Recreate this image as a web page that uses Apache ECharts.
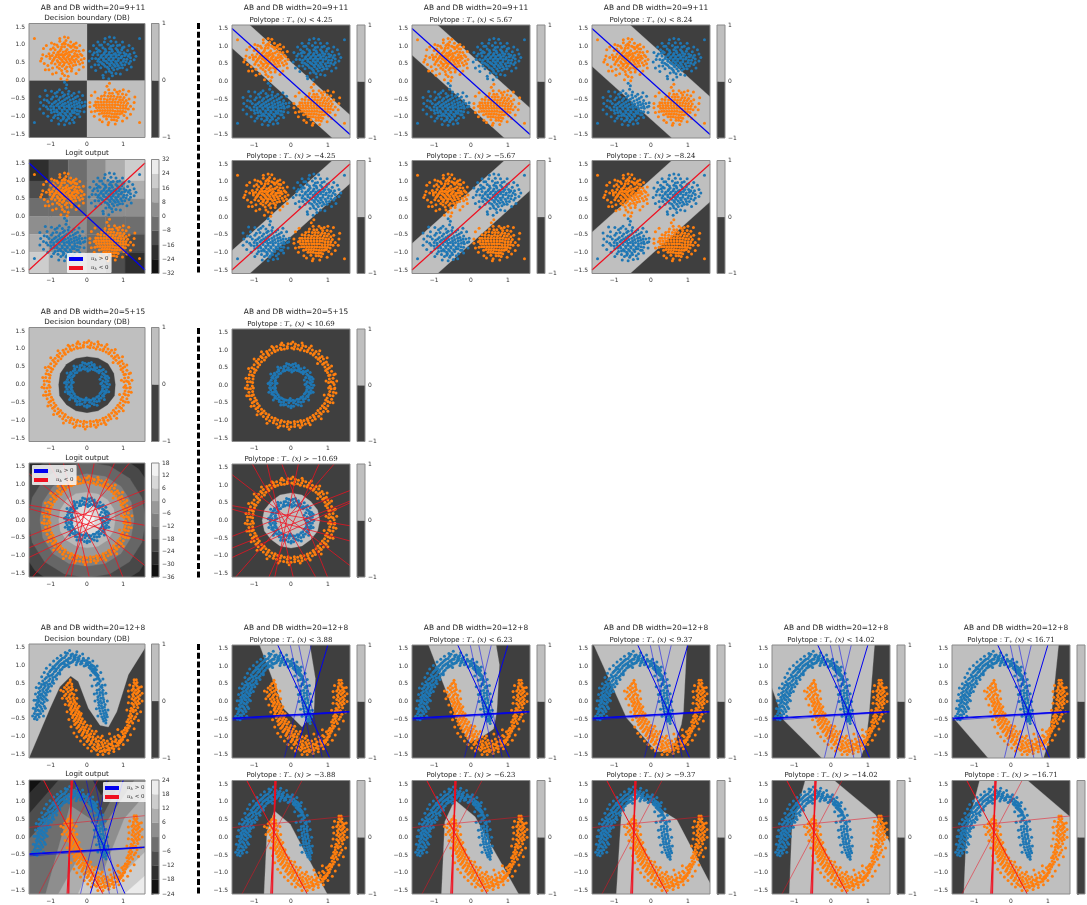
<!DOCTYPE html>
<html>
<head>
<meta charset="utf-8">
<script src="https://cdn.jsdelivr.net/npm/echarts@6/dist/echarts.min.js"></script>
<style>
html,body{margin:0;padding:0;background:#fff}
#main{width:1087px;height:905px;filter:blur(0.4px)}
</style>
</head>
<body>
<div id="main"></div>
<script>
// ticks
var xTicks = [-1, 0, 1];
var yTicks = [1.5, 1, 0.5, 0, -0.5, -1, -1.5];
var dbTicks = [1, 0, -1];
var logitTicks1 = [32, 24, 16, 8, 0, -8, -16, -24, -32];
var logitTicks2 = [18, 12, 6, 0, -6, -12, -18, -24, -30, -36];
var logitTicks3 = [24, 18, 12, 6, 0, -6, -12, -18, -24];

// four blobs
var blobOrangeA = [[-1.45,1.18],[-.62,1.22],[-.58,1.12],[-.75,1.1],[-.45,1.08],[-.9,1.02],[-.68,1.02],[-.52,1],[-.36,1.02],[-.8,.95],[-.62,.95],[-.44,.93],[-.28,.92],[-1,.88],[-.88,.86],[-.72,.88],[-.55,.87],[-.38,.85],[-.22,.82],[-1.05,.75],[-.92,.78],[-.8,.79],[-.66,.8],[-.5,.79],[-.34,.76],[-.18,.74],[-1.12,.68],[-.96,.7],[-.84,.72],[-.72,.72],[-.6,.74],[-.48,.72],[-.36,.68],[-.24,.66],[-1.02,.62],[-.9,.63],[-.78,.65],[-.66,.66],[-.54,.65],[-.42,.62],[-.3,.6],[-.16,.58],[-1.18,.48],[-.95,.55],[-.82,.56],[-.7,.58],[-.58,.58],[-.46,.55],[-.34,.52],[-.2,.46],[-1.08,.42],[-.88,.46],[-.74,.49],[-.62,.5],[-.5,.47],[-.38,.42],[-1.05,.3],[-.82,.38],[-.68,.4],[-.56,.38],[-.42,.34],[-.7,.28],[-.55,.26],[-.85,.22],[-.52,.12],[-.68,.2],
  [-.93,.92],[-.63,1.06],[-.47,.97],[-.33,.93],[-.75,.83],[-.59,.82],[-.43,.81],[-.27,.72],[-.86,.67],[-.74,.62],[-.63,.71],[-.51,.69],[-.41,.67],[-.29,.69],[-.69,.73],[-.56,.76],[-.78,.73],[-1.02,.68],[-.92,.59],[-.62,.62],[-.49,.6],[-.37,.57],[-.24,.53],[-.8,.52],[-.67,.53],[-.55,.52],[-.43,.49],[-.31,.44],[-.98,.49],[-.76,.44],[-.64,.44],[-.47,.39],[-.6,.33],[-1.22,.72],[-.14,.7],[-.12,.5],[-.76,.34],[-.43,.27],[-.62,.14],[-.95,.35],[-.83,1],[-.39,.98],[-.6,1.03],[-.3,.83],[-.7,.94],
  [-1.28,.55],[-1.2,.9],[-1.12,.98],[-.98,1.05],[-.3,1.05],[-.2,.98],[-.1,.85],[-.08,.62],[-.1,.38],[-.22,.3],[-.3,.2],[-.95,.18],[-1.15,.3],[-.72,.05],[-.55,.02],[-1.25,.62],[-.52,1.2],[-.75,1.18]];
var blobBlueA = [[1.45,1.18],[.62,1.22],[.66,1.1],[.48,1.08],[.8,1.08],[.35,1],[.58,1.02],[.72,.98],[.9,1],[1.02,.94],[.26,.9],[.44,.92],[.62,.9],[.8,.9],[.96,.86],[1.12,.84],[.2,.78],[.36,.82],[.52,.82],[.7,.82],[.86,.8],[1.02,.78],[1.18,.74],[.14,.62],[.3,.72],[.46,.74],[.6,.74],[.74,.74],[.88,.72],[1.04,.7],[1.2,.64],[.24,.62],[.38,.65],[.52,.66],[.66,.66],[.8,.66],[.94,.64],[1.1,.6],[1.3,.58],[.3,.54],[.46,.57],[.6,.58],[.72,.58],[.86,.56],[1,.54],[1.16,.48],[.22,.44],[.42,.48],[.56,.5],[.68,.5],[.82,.48],[.96,.44],[.5,.4],[.64,.42],[.78,.4],[.9,.36],[.38,.36],[.6,.32],[.74,.3],[.52,.24],[.68,.22],[.44,.15],[.7,.13],[.45,.08],
  [.4,1],[.66,.96],[.84,.98],[.98,.92],[.32,.85],[.5,.88],[.68,.87],[.84,.85],[.48,.78],[.62,.79],[.78,.76],[.92,.78],[1.08,.74],[.4,.7],[.54,.7],[.67,.71],[.81,.7],[.96,.68],[1.14,.68],[.32,.6],[.45,.62],[.6,.62],[.73,.63],[.87,.62],[1.02,.6],[1.2,.54],[.37,.52],[.52,.54],[.66,.55],[.79,.53],[.93,.5],[1.08,.52],[.46,.45],[.62,.46],[.74,.45],[.86,.42],[1.04,.44],[.32,.44],[.56,.37],[.7,.36],[.84,.32],[.98,.36],[.62,.26],[.16,.72],[.28,.8],
  [1.3,.78],[1.26,.9],[1.16,.98],[.98,1.08],[.3,1.08],[.18,.98],[.08,.82],[.06,.55],[.12,.38],[.24,.28],[1.1,.3],[1.22,.38],[.92,.18],[.8,.2],[.6,.05],[.75,1.2],[.5,1.18],[1.35,.68]];
var blobBlueB = [[-1.45,-1.18],[-.56,-.12],[-.58,-.22],[-.76,-.26],[-.5,-.3],[-.88,-.36],[-.68,-.34],[-.52,-.38],[-.36,-.36],[-1.1,-.42],[-.84,-.44],[-.66,-.44],[-.5,-.46],[-.32,-.48],[-1.18,-.54],[-.98,-.52],[-.78,-.54],[-.62,-.54],[-.46,-.55],[-.3,-.58],[-.2,-.54],[-1.05,-.62],[-.9,-.62],[-.74,-.62],[-.6,-.64],[-.44,-.64],[-.28,-.66],[-.14,-.62],[-1.2,-.7],[-1,-.72],[-.84,-.7],[-.7,-.7],[-.56,-.72],[-.42,-.72],[-.26,-.74],[-.18,-.76],[-1.08,-.8],[-.92,-.8],[-.76,-.78],[-.62,-.8],[-.48,-.8],[-.34,-.82],[-.2,-.86],[-.98,-.9],[-.82,-.88],[-.68,-.88],[-.54,-.88],[-.4,-.9],[-.28,-.94],[-.88,-.98],[-.72,-.96],[-.58,-.96],[-.44,-.98],[-.34,-1.04],[-.8,-1.06],[-.64,-1.04],[-.5,-1.06],[-.72,-1.12],[-.58,-1.14],[-.62,-1.24],[-.66,-1],
  [-.82,-.32],[-.62,-.4],[-.42,-.42],[-.26,-.44],[-.94,-.46],[-.74,-.48],[-.56,-.5],[-.38,-.52],[-1.1,-.56],[-.86,-.58],[-.68,-.58],[-.52,-.6],[-.36,-.6],[-.22,-.62],[-.96,-.66],[-.8,-.66],[-.66,-.67],[-.5,-.68],[-.35,-.68],[-.2,-.7],[-1.12,-.74],[-.92,-.74],[-.77,-.74],[-.63,-.74],[-.49,-.75],[-.34,-.76],[-.1,-.72],[-1,-.82],[-.84,-.83],[-.69,-.83],[-.55,-.84],[-.41,-.85],[-.27,-.84],[-.9,-.88],[-.75,-.92],[-.61,-.92],[-.47,-.93],[-.35,-.9],[-.8,-.96],[-.66,-1.08],[-.52,-1.01],[-.4,-1.1],[-.92,-1.04],[-.56,-1.1],[-.24,-.94],
  [-1.28,-.62],[-1.3,-.8],[-1.2,-.92],[-1.08,-1],[-.98,-1.12],[-.08,-.88],[-.05,-.6],[-.12,-.42],[-.22,-.32],[-.98,-.3],[-1.15,-.28],[-.36,-1.18],[-.48,-1.2],[-.78,-1.22],[-.2,-1.02],[-.62,-.05],[-.06,-.7],[-1.3,-.45]];
var blobOrangeB = [[1.45,-1.18],[.55,-.16],[.6,-.26],[.76,-.26],[.9,-.3],[.5,-.34],[.7,-.36],[.86,-.38],[1.08,-.4],[.4,-.44],[.58,-.44],[.74,-.44],[.92,-.46],[.3,-.5],[.48,-.52],[.64,-.52],[.8,-.52],[.98,-.54],[1.16,-.52],[.24,-.6],[.38,-.6],[.54,-.6],[.7,-.6],[.86,-.6],[1.02,-.62],[.2,-.7],[.32,-.68],[.46,-.68],[.62,-.68],[.78,-.68],[.92,-.7],[1.08,-.7],[1.2,-.72],[.26,-.76],[.4,-.76],[.56,-.76],[.7,-.76],[.84,-.78],[1,-.78],[1.14,-.8],[.22,-.86],[.36,-.84],[.5,-.84],[.64,-.84],[.78,-.86],[.92,-.86],[1.06,-.88],[.34,-.94],[.48,-.92],[.62,-.92],[.76,-.94],[.9,-.94],[1.02,-.98],[.46,-1],[.6,-1],[.74,-1.02],[.86,-1.04],[.54,-1.08],[.68,-1.1],[.82,-1.12],[.6,-1.18],[.58,-1.24],
  [.62,-.36],[.82,-.32],[.98,-.38],[.48,-.42],[.66,-.44],[.84,-.46],[1.02,-.48],[.38,-.52],[.56,-.54],[.72,-.53],[.9,-.54],[1.08,-.56],[.3,-.6],[.46,-.6],[.62,-.6],[.78,-.6],[.94,-.62],[1.12,-.64],[.24,-.68],[.4,-.68],[.54,-.68],[.7,-.68],[.85,-.68],[1,-.7],[.33,-.76],[.48,-.76],[.63,-.76],[.77,-.76],[.92,-.78],[1.07,-.78],[.29,-.84],[.43,-.84],[.57,-.84],[.71,-.84],[.85,-.86],[.99,-.86],[.41,-.92],[.55,-.92],[.69,-.93],[.83,-.94],[.96,-.92],[.53,-1],[.67,-1.02],[.8,-1.02],[.75,-1.1],
  [1.3,-.62],[1.28,-.8],[1.2,-.95],[1.1,-1.05],[.98,-1.14],[.12,-.88],[.08,-.62],[.12,-.42],[.22,-.32],[1,-.26],[1.15,-.3],[.35,-1.1],[.42,-1.16],[.78,-1.22],[.2,-1],[.62,-.08],[.08,-.74],[1.32,-.46]];

// two rings
var ringBlue = [[.55,.02],[.46,-.03],[.53,.15],[.44,.1],[.47,.28],[.4,.22],[.4,.39],[.33,.33],[.27,.47],[.23,.4],[.14,.55],[.11,.44],[0,.57],[.01,.45],[-.14,.54],[-.11,.44],[-.28,.5],[-.22,.4],[-.38,.38],[-.33,.32],[-.48,.27],[-.4,.22],[-.54,.14],[-.43,.11],[-.56,0],[-.44,-.02],[-.55,-.13],[-.44,-.12],[-.47,-.28],[-.39,-.22],[-.38,-.38],[-.32,-.33],[-.27,-.48],[-.22,-.39],[-.14,-.55],[-.12,-.43],[.01,-.58],[-.01,-.44],[.14,-.53],[.11,-.44],[.27,-.48],[.22,-.4],[.39,-.38],[.32,-.32],[.48,-.26],[.39,-.22],[.54,-.15],[.43,-.12],[.51,.07],[.49,.2],[.43,.31],[.33,.4],[.21,.47],[.07,.51],[-.07,.5],[-.2,.46],[-.33,.41],[-.43,.3],[-.48,.2],[-.51,.06],[-.5,-.07],[-.47,-.2],[-.42,-.31],[-.32,-.41],[-.2,-.47],[-.06,-.5],[.07,-.5],[.2,-.47],[.33,-.4],[.43,-.31],[.48,-.19],[.5,-.06],[-.52,-.2],[.52,.24],[.2,.56],[-.2,-.56],
  [.58,.1],[.5,-.08],[.41,.04],[.56,.23],[.36,.15],[.35,.37],[.45,.42],[.28,.37],[.2,.52],[.17,.42],[.05,.6],[.07,.41],[-.06,.6],[-.05,.43],[-.19,.53],[-.17,.41],[-.34,.45],[-.28,.34],[-.45,.34],[-.36,.25],[-.52,.22],[-.42,.14],[-.58,.08],[-.42,.04],[-.58,-.07],[-.42,-.08],[-.52,-.25],[-.41,-.17],[-.44,-.36],[-.35,-.27],[-.32,-.46],[-.26,-.36],[-.2,-.55],[-.17,-.41],[-.07,-.6],[-.06,-.43],[.07,-.6],[.05,-.43],[.2,-.56],[.17,-.4],[.34,-.46],[.27,-.35],[.46,-.33],[.36,-.25],[.53,-.22],[.42,-.17],[.58,-.07],[.43,-.05],
  [.62,0],[.6,.18],[.52,.36],[.36,.5],[.12,.62],[-.12,.62],[-.36,.52],[-.55,.32],[-.62,.05],[-.6,-.2],[-.48,-.42],[-.28,-.56],[0,-.64],[.28,-.58],[.48,-.42],[.6,-.2],[.38,.02],[-.38,.06],[.02,.38],[-.02,-.38]];
var ringOrange = [[1.17,.02],[1.06,-.03],[1.14,.2],[1.04,.18],[1.1,.4],[.99,.36],[1,.58],[.92,.52],[.88,.75],[.8,.68],[.75,.89],[.68,.8],[.58,1],[.53,.91],[.4,1.1],[.36,.98],[.2,1.14],[.18,1.04],[0,1.18],[.02,1.06],[-.2,1.14],[-.18,1.03],[-.39,1.1],[-.36,1],[-.58,1],[-.52,.92],[-.75,.88],[-.68,.8],[-.88,.74],[-.8,.67],[-1,.58],[-.9,.52],[-1.1,.39],[-.99,.36],[-1.14,.2],[-1.03,.18],[-1.18,0],[-1.05,-.02],[-1.14,-.2],[-1.04,-.18],[-1.1,-.4],[-.98,-.36],[-1,-.58],[-.91,-.52],[-.89,-.74],[-.8,-.68],[-.75,-.89],[-.68,-.8],[-.58,-1.01],[-.52,-.92],[-.39,-1.1],[-.36,-.99],[-.2,-1.16],[-.18,-1.04],[0,-1.18],[-.01,-1.06],[.2,-1.14],[.18,-1.04],[.39,-1.1],[.35,-1],[.58,-1],[.52,-.92],[.75,-.88],[.68,-.8],[.88,-.75],[.8,-.66],[1,-.58],[.91,-.52],[1.1,-.4],[.98,-.36],[1.15,-.2],[1.05,-.18],[1.09,.1],[1.06,.29],[.99,.46],[.9,.63],[.78,.78],[.63,.9],[.46,1],[.29,1.06],[.1,1.1],[-.1,1.1],[-.29,1.06],[-.46,1],[-.63,.9],[-.78,.78],[-.9,.63],[-1,.46],[-1.06,.29],[-1.1,.1],[-1.1,-.1],[-1.06,-.29],[-1,-.46],[-.9,-.63],[-.78,-.78],[-.63,-.9],[-.46,-1],[-.29,-1.06],[-.1,-1.1],[.1,-1.1],[.29,-1.06],[.46,-1],[.63,-.9],[.78,-.78],[.9,-.63],[1,-.46],[1.06,-.29],[1.09,-.1],
  [1.14,.08],[1.19,-.08],[1.02,.08],[1.16,.3],[1.02,.28],[1.04,.5],[.94,.42],[.96,.66],[.86,.6],[.84,.82],[.74,.74],[.68,.96],[.6,.86],[.5,1.06],[.44,.95],[.32,1.13],[.25,1],[.12,1.17],[.08,1.03],[-.08,1.18],[-.1,1.05],[-.28,1.15],[-.26,1.02],[-.48,1.07],[-.43,.96],[-.66,.96],[-.6,.85],[-.82,.82],[-.72,.72],[-.94,.68],[-.85,.58],[-1.06,.5],[-.95,.43],[-1.13,.3],[-1.02,.26],[-1.18,.1],[-1.04,.08],[-1.18,-.1],[-1.02,-.08],[-1.13,-.3],[-1.02,-.27],[-1.05,-.5],[-.94,-.43],[-.95,-.67],[-.86,-.58],[-.82,-.82],[-.73,-.73],[-.67,-.96],[-.6,-.84],[-.48,-1.07],[-.43,-.94],[-.3,-1.15],[-.26,-1],[-.1,-1.18],[-.08,-1.03],[.1,-1.17],[.09,-1.03],[.3,-1.14],[.26,-1],[.48,-1.07],[.44,-.95],[.66,-.96],[.6,-.85],[.82,-.82],[.73,-.72],[.95,-.67],[.85,-.58],[1.06,-.49],[.94,-.42],[1.14,-.3],[1.02,-.26],[1.18,-.1],[1.02,-.08],
  [1.24,.12],[1.2,.32],[1.1,.55],[.98,.78],[.78,.98],[.55,1.12],[.3,1.2],[.05,1.23],[-.25,1.2],[-.52,1.1],[-.8,.95],[-1,.75],[-1.15,.48],[-1.22,.2],[-1.24,-.08],[-1.2,-.3],[-1.08,-.6],[-.92,-.84],[-.65,-1.08],[-.35,-1.2],[-.05,-1.25],[.25,-1.2],[.52,-1.12],[.82,-.95],[1,-.74],[1.14,-.5],[1.22,-.22],[.95,.12],[.9,-.28],[.72,.62]];

// two moons
var moonBlue = [[-1.45,-.5],[-1.38,-.52],[-1.32,-.45],[-1.45,-.35],[-1.38,-.38],[-1.28,-.35],[-1.42,-.22],[-1.35,-.25],[-1.25,-.22],[-1.4,-.1],[-1.32,-.12],[-1.22,-.08],[-1.4,.02],[-1.32,0],[-1.22,.04],[-1.36,.12],[-1.28,.1],[-1.18,.12],[-1.34,.24],[-1.25,.2],[-1.15,.22],[-1.32,.36],[-1.22,.32],[-1.12,.3],[-1.25,.46],[-1.15,.42],[-1.06,.4],[-1.22,.56],[-1.12,.52],[-1.02,.48],[-1.12,.66],[-1.02,.62],[-.94,.58],[-1.08,.76],[-.98,.72],[-.88,.68],[-1,.86],[-.9,.82],[-.8,.78],[-.94,.96],[-.84,.9],[-.74,.86],[-.84,1.04],[-.76,1],[-.66,.95],[-.76,1.12],[-.68,1.06],[-.58,1],[-.68,1.2],[-.58,1.14],[-.48,1.06],[-.58,1.28],[-.5,1.2],[-.4,1.1],[-.48,1.42],[-.44,1.26],[-.34,1.16],[-.4,1.32],[-.32,1.22],[-.24,1.12],[-.3,1.3],[-.22,1.18],[-.14,1.06],[-.2,1.26],[-.12,1.14],[-.04,1],[-.1,1.2],[-.02,1.06],[.06,.94],[0,1.14],[.08,.98],[.14,.84],[.08,1.08],[.16,.9],[.22,.76],[.18,.98],[.24,.8],[.3,.66],[.26,.88],[.3,.7],[.36,.56],[.3,.72],[.36,.56],[.42,.44],[.3,.5],[.38,.4],[.44,.3],[.28,.3],[.36,.24],[.44,.18],[.3,.12],[.38,.08],[.46,.04],[.32,-.04],[.4,-.06],[.5,-.1],[.34,-.2],[.42,-.2],[.5,-.25],[.38,-.36],[.46,-.35],[.54,-.38],[.44,-.5],[.5,-.48],[.52,-.62],[-.62,1.04],[-.52,1.1],[-.36,1.24],[-.16,1.1],[-.9,.92],[-1.06,.7],[-1.18,.46],[-1.28,.18],[.12,1.02],[.22,.9],
  [-1.42,-.44],[-1.34,-.38],[-1.42,-.28],[-1.31,-.28],[-1.22,-.28],[-1.38,-.16],[-1.28,-.16],[-1.18,-.15],[-1.36,-.04],[-1.27,-.05],[-1.18,-.02],[-1.34,.06],[-1.25,.06],[-1.14,.06],[-1.31,.17],[-1.22,.15],[-1.12,.17],[-1.29,.28],[-1.2,.26],[-1.09,.25],[-1.27,.4],[-1.18,.37],[-1.08,.35],[-1.18,.5],[-1.08,.46],[-.98,.42],[-1.16,.62],[-1.06,.57],[-.96,.53],[-1.04,.7],[-.94,.66],[-.84,.62],[-1.03,.82],[-.94,.76],[-.84,.72],[-.96,.9],[-.86,.85],[-.76,.8],[-.88,1],[-.79,.94],[-.7,.89],[-.8,1.08],[-.72,1.03],[-.62,.97],[-.72,1.16],[-.63,1.1],[-.54,1.02],[-.62,1.22],[-.54,1.16],[-.44,1.08],[-.54,1.34],[-.46,1.2],[-.38,1.14],[-.44,1.3],[-.36,1.18],[-.28,1.08],[-.34,1.27],[-.26,1.15],[-.18,1.04],[-.24,1.22],[-.16,1.1],[-.08,.98],[-.06,1.14],[.02,1.02],[.1,.9],[.04,1.08],[.12,.93],[.18,.8],[.14,1],[.2,.85],[.26,.72],[.22,.94],[.27,.76],[.33,.62],[.26,.62],[.33,.48],[.41,.38],[.26,.44],[.34,.32],[.42,.24],[.27,.22],[.35,.16],[.44,.1],[.3,.04],[.37,0],[.46,-.03],[.33,-.12],[.4,-.14],[.48,-.17],[.36,-.28],[.44,-.28],[.52,-.32],[.41,-.44],[.48,-.42],[.56,-.44],[.46,-.56],[.52,-.54],
  [-1.5,-.42],[-1.48,-.2],[-1.46,.02],[-1.42,.2],[-1.4,.38],[-1.32,.5],[-1.25,.68],[-1.18,.8],[-1.12,.92],[-1.02,1.02],[-.92,1.12],[-.82,1.2],[-.72,1.28],[-.6,1.36],[-.28,1.38],[-.12,1.32],[.04,1.2],[.16,1.12],[.28,.98],[.38,.8],[.2,.6],[.14,.42],[.2,.2],[.22,0],[.26,-.22],[.3,-.42],[.58,-.25],[.56,0],[.52,.22],[.5,.45],[.44,.62],[-.3,1.02],[-.5,.96],[-.75,.76],[-.92,.5],[-1.02,.28],[-1.1,.02],[-1.15,-.2],[-1.2,-.42],[.1,.72]];
var moonOrange = [[-.46,.6],[-.52,.5],[-.42,.48],[-.62,.38],[-.5,.38],[-.4,.34],[-.65,.27],[-.52,.26],[-.42,.22],[-.62,.15],[-.5,.12],[-.38,.1],[-.52,0],[-.44,-.02],[-.34,-.02],[-.5,-.12],[-.42,-.14],[-.32,-.14],[-.46,-.24],[-.38,-.26],[-.28,-.26],[-.44,-.36],[-.34,-.38],[-.24,-.36],[-.4,-.46],[-.3,-.48],[-.2,-.46],[-.36,-.56],[-.26,-.58],[-.16,-.56],[-.34,-.66],[-.22,-.68],[-.1,-.64],[-.28,-.76],[-.16,-.78],[-.04,-.74],[-.22,-.86],[-.1,-.88],[.02,-.84],[-.14,-.96],[-.02,-.98],[.1,-.92],[-.08,-1.04],[.04,-1.06],[.16,-1],[0,-1.14],[.12,-1.14],[.24,-1.06],[.08,-1.22],[.2,-1.22],[.32,-1.12],[.16,-1.3],[.28,-1.28],[.4,-1.16],[.26,-1.38],[.38,-1.32],[.5,-1.18],[.36,-1.42],[.48,-1.36],[.6,-1.2],[.5,-1.42],[.6,-1.32],[.7,-1.14],[.62,-1.38],[.72,-1.26],[.8,-1.08],[.74,-1.34],[.84,-1.18],[.9,-1],[.86,-1.24],[.94,-1.08],[1,-.92],[.94,-1.14],[1.04,-.98],[1.1,-.82],[1.02,-1],[1.1,-.84],[1.18,-.7],[1.06,-.76],[1.16,-.6],[1.26,-.62],[1.1,-.58],[1.2,-.48],[1.3,-.5],[1.2,-.36],[1.28,-.3],[1.38,-.36],[1.22,-.2],[1.3,-.16],[1.4,-.18],[1.24,-.06],[1.34,-.04],[1.44,-.06],[1.24,.06],[1.34,.08],[1.44,.06],[1.26,.18],[1.36,.2],[1.46,.16],[1.24,.3],[1.34,.3],[1.44,.28],[1.28,.42],[1.38,.42],[1.44,.38],[1.3,.52],[1.38,.52],[1.36,.6],[.3,-1.2],[.45,-1.28],[.05,-.96],[-.08,-.8],[.56,-1.26],[.68,-1.2],
  [-.47,.54],[-.42,.41],[-.56,.44],[-.56,.33],[-.45,.3],[-.58,.2],[-.47,.18],[-.36,.18],[-.56,.07],[-.46,.06],[-.36,.03],[-.47,-.06],[-.38,-.08],[-.29,-.08],[-.44,-.19],[-.34,-.2],[-.26,-.2],[-.42,-.3],[-.31,-.32],[-.22,-.3],[-.38,-.41],[-.27,-.42],[-.18,-.4],[-.33,-.52],[-.23,-.52],[-.13,-.5],[-.3,-.62],[-.18,-.62],[-.06,-.58],[-.24,-.72],[-.12,-.72],[0,-.68],[-.19,-.82],[-.06,-.82],[.06,-.78],[-.12,-.92],[0,-.9],[.14,-.84],[-.04,-1],[.08,-1],[.2,-.92],[.03,-1.1],[.16,-1.08],[.3,-1],[.12,-1.18],[.25,-1.14],[.38,-1.04],[.2,-1.34],[.33,-1.24],[.46,-1.1],[.31,-1.33],[.43,-1.22],[.56,-1.12],[.42,-1.4],[.54,-1.27],[.66,-1.06],[.56,-1.37],[.66,-1.22],[.76,-1],[.68,-1.32],[.78,-1.14],[.86,-.96],[.8,-1.26],[.89,-1.12],[.96,-.86],[.9,-1.18],[.99,-1.02],[1.06,-.76],[.98,-1.08],[1.06,-.9],[1.14,-.76],[1.02,-.82],[1.12,-.68],[1.22,-.56],[1.14,-.52],[1.24,-.42],[1.34,-.44],[1.16,-.42],[1.26,-.24],[1.34,-.26],[1.2,-.28],[1.28,-.1],[1.38,-.1],[1.3,.02],[1.4,0],[1.28,.13],[1.4,.12],[1.3,.24],[1.4,.24],[1.28,.35],[1.4,.34],[1.34,.47],[1.3,.6],
  [-.72,.3],[-.68,.08],[-.6,-.1],[-.55,-.3],[-.5,-.52],[-.44,-.72],[-.36,-.9],[-.28,-1],[-.18,-1.12],[-.08,-1.22],[.02,-1.32],[.12,-1.4],[.3,-1.5],[.44,-1.5],[.6,-1.47],[.74,-1.42],[.88,-1.34],[1,-1.22],[1.12,-1.1],[1.2,-.95],[1.3,-.78],[1.42,-.55],[1.48,-.3],[1.52,0],[1.52,.22],[1.5,.4],[1.1,-.25],[1.14,-.05],[1.16,.12],[1.14,.28],[1.18,.45],[-.22,-.15],[-.16,-.35],[-.28,.08],[-.3,.3],[.1,-.7],[.25,-.85],[.42,-.98],[.62,-.92],[.85,-.8]];

// activation boundaries (end points on the frame)
var xorBlue = [[[-1.6,1.5],[1.6,-1.5]]];
var xorRed = [[[-1.6,-1.5],[1.6,1.5]]];
var ringRed = [[[-1.05,1.6],[.67,-1.6]],[[-.65,1.6],[.06,-1.6]],[[-.25,1.6],[.99,-1.6]],[[.2,1.6],[-.44,-1.6]],[[.76,1.6],[-.6,-1.6]],[[1.17,1.6],[-1.5,-1.6]],[[-1.6,1.3],[1.6,-1.28]],[[-1.6,.42],[1.6,-.15]],[[-1.6,.32],[1.6,-.58]],[[-1.6,-.45],[1.6,.85]],[[-1.6,-1.05],[1.6,.5]],[[-1.6,-.78],[1.6,.55]]];
var moonBlueStrong = [[[-.36,1.6],[1.05,-1.6]],[[1,1.6],[.09,-1.6]],[[-1.6,-.47],[1.6,-.28]],[[-1.6,-.49],[1.6,-.29]]];
var moonBlueFaint = [[[-.02,1.6],[.62,-1.6]],[[.21,1.6],[.85,-1.6]],[[.55,1.6],[-.18,-1.6]],[[-1.6,-.53],[1.6,-.3]]];
var moonRedStrong = [[[-1.2,1.6],[.44,-1.6]],[[-.4,1.6],[-.55,-1.6]],[[-.42,1.6],[-.52,-1.6]],[[-.44,1.6],[-.5,-1.6]]];
var moonRedFaint = [[[.3,1.6],[-1.33,-1.6]],[[-1.6,.27],[1.6,.6]]];

// decision regions
var dbXor = [[[-1.6,0],[0,0],[0,1.6],[-1.6,1.6]],[[0,0],[1.6,0],[1.6,-1.6],[0,-1.6]]];
var bandPlus = {
  '4.25': [[-1.6,2.05],[1.6,-.95],[1.6,-2.05],[-1.6,.95]],
  '5.67': [[-1.6,2.25],[1.6,-.75],[1.6,-2.25],[-1.6,.75]],
  '8.24': [[-1.6,2.57],[1.6,-.43],[1.6,-2.57],[-1.6,.43]]
};
var bandMinus = {
  '4.25': [[1.6,2.05],[-1.6,-.95],[-1.6,-2.05],[1.6,.95]],
  '5.67': [[1.6,2.25],[-1.6,-.75],[-1.6,-2.25],[1.6,.75]],
  '8.24': [[1.6,2.57],[-1.6,-.43],[-1.6,-2.57],[1.6,.43]]
};
var xorEdgesX = [-1.6,-1.05,-.52,0,.52,1.05,1.6];
var xorEdgesY = [1.6,1,.5,0,-.5,-1,-1.6];
var xorLevels = [
  [1,2,3,4,5,6],
  [2,3,3,4,4,5],
  [3,3,3,4,4,4],
  [4,4,4,3,3,3],
  [5,4,4,3,3,2],
  [6,5,4,3,2,1]
];

// outline radii, one for every 22.5 degrees
var ringDb = [.78,.8,.82,.8,.78,.79,.8,.8,.78,.82,.8,.8,.79,.8,.8,.82];
var ringDisc = [.78,.78,.76,.78,.78,.78,.76,.78,.78,.78,.76,.78,.78,.78,.76,.78];
var ringLevels = [
  [2,2.02,2.02,2.04,2.02,2.02,2.04,2.02,2,2.02,2.02,2.04,2.02,2.02,2.04,2.02],
  [1.62,1.64,1.66,1.64,1.62,1.64,1.66,1.64,1.62,1.64,1.66,1.64,1.62,1.64,1.66,1.64],
  [1.3,1.32,1.33,1.32,1.3,1.31,1.33,1.32,1.3,1.32,1.33,1.32,1.3,1.32,1.33,1.31],
  [1.04,1.05,1.06,1.05,1.04,1.05,1.06,1.05,1.04,1.05,1.06,1.05,1.04,1.05,1.06,1.05],
  [.78,.8,.8,.79,.78,.8,.8,.79,.78,.8,.8,.79,.78,.8,.8,.79],
  [.48,.5,.5,.5,.48,.5,.5,.5,.48,.5,.5,.5,.48,.5,.5,.5],
  [.2,.22,.2,.22,.2,.22,.2,.22,.2,.22,.2,.22,.2,.22,.2,.22]
];

var dbMoon = [[-1.6,1.6],[1.6,1.6],[1.6,1.49],[1.14,.74],[.82,-.3],[.59,-.73],[.36,-.68],[.04,-.2],[-.24,.55],[-.45,.7],[-.75,.4],[-1.02,-.2],[-1.6,-1.6]];
var moonPlus = {
  '3.88': [[-.85,1.6],[.51,1.6],[.66,.65],[.62,-.3],[.3,-.72],[-.2,-.2]],
  '6.23': [[-1.15,1.6],[.68,1.6],[.77,1.04],[.7,-.28],[.61,-.78],[.3,-1],[-.05,-1.15],[-.4,-.45]],
  '9.37': [[-1.55,1.6],[.97,1.6],[.88,-.28],[.82,-.66],[.56,-1.4],[.15,-1.42],[-.66,-.47]],
  '14.02': [[-1.6,1.6],[1.18,1.6],[1.03,-.38],[.94,-1.2],[.8,-1.6],[-.25,-1.6],[-1.29,-.52],[-1.6,.38]],
  '16.71': [[-1.6,1.6],[1.29,1.6],[1.02,-1.13],[.88,-1.6],[-.62,-1.6],[-1.6,-.42]]
};
var moonMinus = {
  '3.88': [[-.45,.74],[-.02,.37],[.98,-1.6],[-.73,-1.6],[-.65,.16]],
  '6.23': [[-.44,1.05],[.11,.58],[1.29,-1.6],[-.8,-1.6],[-.71,.44]],
  '9.37': [[-.44,1.29],[.34,.72],[.7,.49],[1.6,-1.3],[1.6,-1.6],[-.94,-1.6],[-.8,.72]],
  '14.02': [[-.7,1.6],[.09,1.6],[1.21,.63],[1.6,-.17],[1.6,-1.6],[-1.13,-1.6],[-1.06,.25]],
  '16.71': [[-.85,1.6],[.45,1.6],[1.6,.58],[1.6,-1.6],[-1.28,-1.6],[-1.21,.16]]
};
var moonLogit = [
  [4, [[-1.6,1.6],[1.6,1.6],[1.6,-1.6],[-1.6,-1.6]]],
  [5, [[1.6,1.18],[1.6,-1.6],[-.79,-1.6],[-.25,-.61],[.44,-.99],[1.03,.52]]],
  [6, [[1.6,-.42],[1.6,-1.6],[-.25,-1.6],[.03,-.99],[.48,-1.37],[.94,-1.08]]],
  [7, [[1.6,-1.09],[1.6,-1.6],[1.03,-1.6]]],
  [3, [[-1.6,1.6],[1.3,1.6],[.44,.28],[-.47,.9],[-1.15,-1.6],[-1.6,-1.6]]],
  [2, [[-1.6,1.6],[.94,1.6],[.39,.52],[-.34,1.37],[-1.6,-.05]]],
  [1, [[-1.6,1.6],[-.79,1.6],[-1.6,.66]]],
  [1, [[.16,1.6],[.62,1.6],[.39,1.18]]],
  [0, [[-1.6,1.6],[-1.25,1.6],[-1.6,1.23]]]
];

var DARK = '#3f3f3f', LIGHT = '#bfbfbf';
var gray8 = ['#111111','#2e2e2e','#4d4d4d','#6e6e6e','#8e8e8e','#aeaeae','#cdcdcd','#ececec'];
var gray9 = ['#101010','#2b2b2b','#484848','#666666','#808080','#999999','#b8b8b8','#d8d8d8','#f2f2f2'];
var BLUE = '#1f77b4', ORANGE = '#ff7f0e';
var LINE_BLUE = '#0000f0', LINE_RED = '#f01020';
var FONT = 'DejaVu Sans';

var whole = [[-1.6,1.6],[1.6,1.6],[1.6,-1.6],[-1.6,-1.6]];
var blobsBlue = blobBlueA.concat(blobBlueB);
var blobsOrange = blobOrangeA.concat(blobOrangeB);

var grids = [], xAxes = [], yAxes = [], series = [], titles = [];

function minus(v) { return String(v).replace('-', '\u2212'); }

function ringPoints(radii) {
  return radii.map(function (r, i) {
    var a = i * Math.PI / 8;
    return [r * Math.cos(a), r * Math.sin(a)];
  });
}

function frameSeries(g) {
  return {
    type: 'custom', xAxisIndex: g, yAxisIndex: g, silent: true, z: 6, clip: false, data: [[0]],
    renderItem: function (params) {
      var c = params.coordSys;
      return { type: 'rect', shape: { x: c.x, y: c.y, width: c.width, height: c.height },
        style: { fill: null, stroke: '#8a8a8a', lineWidth: 1 } };
    }
  };
}

function regionSeries(g, layers) {
  return {
    type: 'custom', xAxisIndex: g, yAxisIndex: g, silent: true, z: 1, clip: true,
    data: layers.map(function (l, i) { return [i]; }),
    renderItem: function (params, api) {
      var l = layers[params.dataIndex];
      return { type: 'polygon', shape: { points: l[1].map(function (p) { return api.coord(p); }) },
        style: { fill: l[0], stroke: l[0], lineWidth: 0.3 } };
    }
  };
}

function addLines(g, list, color, width, opacity, name) {
  list.forEach(function (seg) {
    series.push({ type: 'line', name: name, xAxisIndex: g, yAxisIndex: g, data: seg, showSymbol: false, silent: true, z: 4,
      color: color, lineStyle: { color: color, width: width, opacity: opacity } });
  });
}

function panel(box, layers, dots, lineFn) {
  var g = grids.length;
  grids.push({ left: box[0], top: box[2], width: box[1] - box[0], height: box[3] - box[2] });
  xAxes.push({ type: 'value', gridIndex: g, min: -1.6, max: 1.6, splitLine: { show: false }, axisLine: { show: false },
    axisTick: { length: 2, lineStyle: { color: '#444', width: 0.7 }, customValues: xTicks },
    axisLabel: { customValues: xTicks, fontSize: 6, color: '#333', fontFamily: FONT, margin: 4, formatter: minus } });
  yAxes.push({ type: 'value', gridIndex: g, min: -1.6, max: 1.6, splitLine: { show: false }, axisLine: { show: false },
    axisTick: { length: 2, lineStyle: { color: '#444', width: 0.7 }, customValues: yTicks },
    axisLabel: { customValues: yTicks, fontSize: 6, color: '#333', fontFamily: FONT, margin: 4,
      formatter: function (v) { return minus(v.toFixed(1)); } } });
  series.push(regionSeries(g, layers));
  series.push({ type: 'scatter', xAxisIndex: g, yAxisIndex: g, data: dots[0], symbolSize: 3, silent: true, z: 2, itemStyle: { color: BLUE, opacity: 1 } });
  series.push({ type: 'scatter', xAxisIndex: g, yAxisIndex: g, data: dots[1], symbolSize: 3, silent: true, z: 2, itemStyle: { color: ORANGE, opacity: 1 } });
  if (lineFn) lineFn(g);
  series.push(frameSeries(g));
}

// colorbar: bands are stacked upward from the first tick edge
function colorbar(x0, x1, y0, y1, ticks, colors, labels) {
  var g = grids.length, lo = ticks[ticks.length - 1], hi = ticks[0];
  var n = colors.length, step = (hi - lo) / n, layers = [];
  colors.forEach(function (c, i) {
    var a = lo + i * step, b = a + step;
    layers.push([c, [[0,a],[1,a],[1,b],[0,b]]]);
  });
  grids.push({ left: x0, top: y0, width: x1 - x0, height: y1 - y0 });
  xAxes.push({ type: 'value', gridIndex: g, min: 0, max: 1, show: false });
  yAxes.push({ type: 'value', gridIndex: g, min: lo, max: hi, position: 'right', splitLine: { show: false }, axisLine: { show: false },
    axisTick: { length: 2, lineStyle: { color: '#444', width: 0.7 }, customValues: ticks },
    axisLabel: { show: labels, customValues: ticks, fontSize: 6, color: '#333', fontFamily: FONT, margin: 3, formatter: minus } });
  series.push(regionSeries(g, layers));
  series.push(frameSeries(g));
}

var titleRich = {
  m: { fontFamily: 'DejaVu Serif', fontStyle: 'italic', fontSize: 7, color: '#222' },
  s: { fontFamily: 'DejaVu Serif', fontSize: 4.5, color: '#222', verticalAlign: 'bottom', padding: [3, 0, 0, 0] },
  n: { fontFamily: 'DejaVu Serif', fontSize: 7, color: '#222' }
};
function label(text, cx, y, size) {
  titles.push({ text: text, left: cx, top: y, textAlign: 'center', textVerticalAlign: 'middle', padding: 0,
    textStyle: { fontSize: size, fontWeight: 'normal', fontFamily: FONT, color: '#222', rich: titleRich } });
}
function polytopeTitle(sign, t) {
  return sign > 0
    ? 'Polytope : {m|T}{s|+}{n| }{m|(x)}{n| < ' + t + '}'
    : 'Polytope : {m|T}{s|\u2212}{n| }{m|(x)}{n| > \u2212' + t + '}';
}

function cells() {
  var out = [];
  xorLevels.forEach(function (row, j) {
    row.forEach(function (lv, i) {
      var a = xorEdgesX[i], b = xorEdgesX[i + 1], c = xorEdgesY[j], d = xorEdgesY[j + 1];
      out.push([gray8[lv], [[a,c],[b,c],[b,d],[a,d]]]);
    });
  });
  return out;
}

var rows = [
  { sup: 'AB and DB width=20=9+11', supY: 8, t0: 18, t1: 153.5, p0: 20, p1: 156,
    a0: [23.5,137.5], a1: [159.5,273.5], b0: [25,138], b1: [160.5,273.5] },
  { sup: 'AB and DB width=20=5+15', supY: 312, t0: 322, t1: 458, p0: 324, p1: 459,
    a0: [327.5,441.5], a1: [463,577], b0: [329,441.5], b1: [464,577] },
  { sup: 'AB and DB width=20=12+8', supY: 628, t0: 639, t1: 774, p0: 640, p1: 775,
    a0: [644,758], a1: [780,894], b0: [645,758], b1: [780.5,894] }
];
var polyCols = [[232,350,357,365], [412,530,537,545], [592,710,717,725], [772,890,897,905], [952,1070,1077,1085]];

function leftColumn(r, dbLayers, logitLayers, dots, lineFn, ticks, colors) {
  label(r.sup, 93, r.supY, 7.4);
  label('Decision boundary (DB)', 87, r.t0, 7.2);
  panel([29,145,r.a0[0],r.a0[1]], dbLayers, dots);
  colorbar(151.5,159,r.a0[0],r.a0[1],dbTicks,[DARK,LIGHT],true);
  label('Logit output', 87, r.t1, 7.2);
  panel([29,145,r.a1[0],r.a1[1]], logitLayers, dots, lineFn);
  colorbar(151.5,159,r.a1[0],r.a1[1],ticks,colors,true);
}

function polyColumn(r, c, t, upper, lower, dots, upFn, lowFn) {
  var col = polyCols[c], cx = (col[0] + col[1]) / 2, show = c < 4;
  label(r.sup, cx + 5, r.supY, 7.4);
  label(polytopeTitle(1, t), cx, r.p0, 7);
  panel([col[0],col[1],r.b0[0],r.b0[1]], upper, dots, upFn);
  colorbar(col[2],col[3],r.b0[0],r.b0[1],dbTicks,[DARK,LIGHT],show);
  label(polytopeTitle(-1, t), cx, r.p1, 7);
  panel([col[0],col[1],r.b1[0],r.b1[1]], lower, dots, lowFn);
  colorbar(col[2],col[3],r.b1[0],r.b1[1],dbTicks,[DARK,LIGHT],show);
}

function base(color) { return [color, whole]; }
function light(poly) { return [base(DARK), [LIGHT, poly]]; }

var POS = 'uk > 0', NEG = 'uk < 0';

// row 1: blobs
var xorDots = [blobsBlue, blobsOrange];
function xorB(g) { addLines(g, xorBlue, LINE_BLUE, 1.2, 1); }
function xorR(g) { addLines(g, xorRed, LINE_RED, 1.2, 1); }
leftColumn(rows[0], [base(DARK), [LIGHT, dbXor[0]], [LIGHT, dbXor[1]]], cells(), xorDots, function (g) {
  addLines(g, xorBlue, LINE_BLUE, 1.2, 1, POS);
  addLines(g, xorRed, LINE_RED, 1.2, 1, NEG);
}, logitTicks1, gray8);
['4.25','5.67','8.24'].forEach(function (t, c) {
  polyColumn(rows[0], c, t, light(bandPlus[t]), light(bandMinus[t]), xorDots, xorB, xorR);
});

// row 2: rings
var ringDots = [ringBlue, ringOrange];
function ringR(g) { addLines(g, ringRed, LINE_RED, 0.9, 0.85); }
var ringLayers = [base(gray9[1])];
ringLevels.forEach(function (radii, i) { ringLayers.push([gray9[i + 2], ringPoints(radii)]); });
leftColumn(rows[1], [base(LIGHT), [DARK, ringPoints(ringDb)]], ringLayers, ringDots, function (g) {
  series.push({ type: 'line', name: POS, xAxisIndex: g, yAxisIndex: g, data: [], color: LINE_BLUE, lineStyle: { color: LINE_BLUE } });
  addLines(g, ringRed, LINE_RED, 0.9, 0.85, NEG);
}, logitTicks2, gray9);
polyColumn(rows[1], 0, '10.69', [base(DARK)], light(ringPoints(ringDisc)), ringDots, null, ringR);

// row 3: moons
var moonDots = [moonBlue, moonOrange];
function moonB(g, name) {
  addLines(g, moonBlueStrong, LINE_BLUE, 1, 1, name);
  addLines(g, moonBlueFaint, LINE_BLUE, 0.8, 0.65, name);
}
function moonR(g, name) {
  addLines(g, moonRedStrong, LINE_RED, 1, 1, name);
  addLines(g, moonRedFaint, LINE_RED, 0.8, 0.65, name);
}
var logitLayers3 = moonLogit.map(function (l) { return [gray8[l[0]], l[1]]; });
leftColumn(rows[2], light(dbMoon), logitLayers3, moonDots, function (g) {
  moonB(g, POS);
  moonR(g, NEG);
}, logitTicks3, gray8);
['3.88','6.23','9.37','14.02','16.71'].forEach(function (t, c) {
  polyColumn(rows[2], c, t, light(moonPlus[t]), light(moonMinus[t]), moonDots, moonB, moonR);
});

function legendAt(left, top) {
  return {
    left: left, top: top, orient: 'vertical', itemWidth: 14, itemHeight: 4, itemGap: 3, padding: [3, 3, 2, 2],
    icon: 'rect', selectedMode: false, backgroundColor: 'rgba(255,255,255,0.82)', borderRadius: 1, z: 8,
    data: [POS, NEG],
    formatter: function (n) { return n === POS ? '{i|u}{k|k}{t| > 0}' : '{i|u}{k|k}{t| < 0}'; },
    textStyle: { fontSize: 5.5, color: '#333', fontFamily: 'DejaVu Serif', padding: [0, 0, 0, 3],
      rich: { i: { fontStyle: 'italic', fontSize: 5.5, fontFamily: 'DejaVu Serif', color: '#333' },
        k: { fontStyle: 'italic', fontSize: 4, fontFamily: 'DejaVu Serif', color: '#333', verticalAlign: 'bottom' },
        t: { fontSize: 5.5, fontFamily: 'DejaVu Serif', color: '#333' } } }
  };
}

function dash(y1, y2) {
  return { type: 'line', shape: { x1: 198.5, y1: y1, x2: 198.5, y2: y2 }, style: { stroke: '#000', lineWidth: 3, lineDash: [6, 2.7] }, silent: true };
}

var chart = echarts.init(document.getElementById('main'));
chart.setOption({
  animation: false,
  backgroundColor: '#fff',
  tooltip: { show: false },
  title: titles,
  grid: grids,
  xAxis: xAxes,
  yAxis: yAxes,
  legend: [legendAt(67, 253), legendAt(32, 465), legendAt(103, 782)],
  graphic: [dash(23, 275), dash(328, 579), dash(644, 895)],
  series: series
});
</script>
</body>
</html>
